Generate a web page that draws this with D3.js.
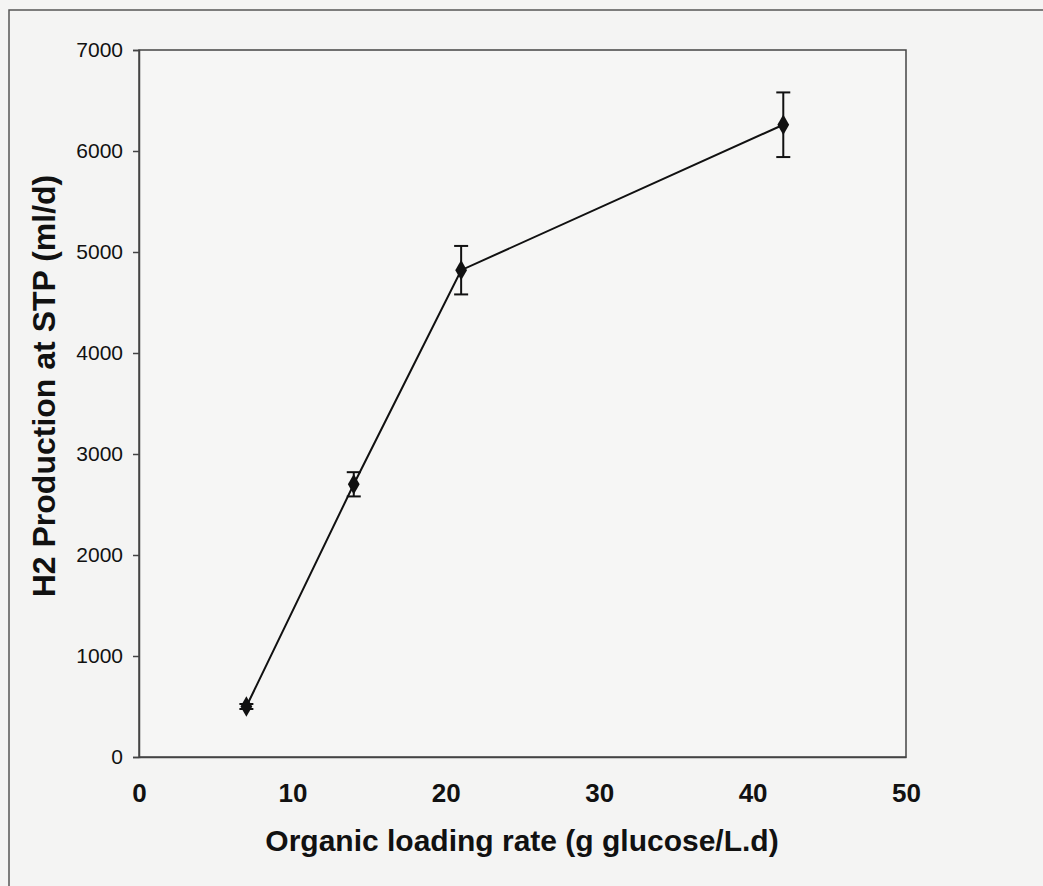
<!DOCTYPE html>
<html>
<head>
<meta charset="utf-8">
<script src="https://cdn.jsdelivr.net/npm/d3@7"></script>
<style>
  html, body { margin: 0; padding: 0; background: #f4f4f3; }
  svg { display: block; }
  text { font-family: "Liberation Sans", Arial, sans-serif; fill: #111; }
</style>
</head>
<body>
<svg id="chart" width="1043" height="886"></svg>
<script>
// Organic loading rate (g glucose/L.d)
const loadingRate = [7, 14, 21, 42];
// H2 production at STP (ml/d) and its error
const h2Production = [500, 2700, 4820, 6260];
const h2Error = [25, 120, 240, 320];

const xTicks = [0, 10, 20, 30, 40, 50];
const yTicks = [0, 1000, 2000, 3000, 4000, 5000, 6000, 7000];

const svg = d3.select("#chart");
const W = 1043, H = 886;
const plot = { left: 139, right: 906, top: 50, bottom: 757 };

// Page frame
svg.append("rect")
  .attr("x", 9).attr("y", 10)
  .attr("width", W + 20).attr("height", H + 20)
  .attr("fill", "#f4f4f3")
  .attr("stroke", "#555").attr("stroke-width", 1.5);

const x = d3.scaleLinear().domain([0, 50]).range([plot.left, plot.right]);
const y = d3.scaleLinear().domain([0, 7000]).range([plot.bottom, plot.top]);

// Plot area border
svg.append("rect")
  .attr("x", plot.left).attr("y", plot.top)
  .attr("width", plot.right - plot.left).attr("height", plot.bottom - plot.top)
  .attr("fill", "#f6f6f5")
  .attr("stroke", "#444").attr("stroke-width", 1.5);

// Y axis
const yAxis = svg.append("g")
  .attr("transform", `translate(${plot.left},0)`)
  .call(d3.axisLeft(y).tickValues(yTicks).tickSize(6).tickPadding(10).tickFormat(d3.format("d")));
yAxis.select(".domain").attr("stroke", "#444").attr("stroke-width", 1.5);
yAxis.selectAll(".tick line").attr("stroke", "#444").attr("stroke-width", 1.5);
yAxis.selectAll(".tick text")
  .style("font-family", '"Liberation Sans", Arial, sans-serif')
  .style("font-size", "21px").attr("fill", "#111");

// X axis (labels only)
const xAxis = svg.append("g")
  .attr("transform", `translate(0,${plot.bottom})`)
  .call(d3.axisBottom(x).tickValues(xTicks).tickSize(0).tickPadding(27).tickFormat(d3.format("d")));
xAxis.select(".domain").attr("stroke", "#444").attr("stroke-width", 1.5);
xAxis.selectAll(".tick text")
  .style("font-family", '"Liberation Sans", Arial, sans-serif')
  .style("font-size", "26px").style("font-weight", "bold").attr("fill", "#111");

// Axis titles
svg.append("text")
  .attr("x", 522).attr("y", 851)
  .attr("text-anchor", "middle")
  .style("font-size", "30px").style("font-weight", "bold")
  .text("Organic loading rate (g glucose/L.d)");

svg.append("text")
  .attr("transform", "translate(55,386) rotate(-90)")
  .attr("text-anchor", "middle")
  .style("font-size", "32px").style("font-weight", "bold")
  .text("H2 Production at STP (ml/d)");

const pts = loadingRate.map((v, i) => ({ x: v, y: h2Production[i], e: h2Error[i] }));

// Connecting line
svg.append("path")
  .datum(pts)
  .attr("fill", "none").attr("stroke", "#111").attr("stroke-width", 2)
  .attr("d", d3.line().x(d => x(d.x)).y(d => y(d.y)));

// Error bars
const eb = svg.append("g").attr("stroke", "#111").attr("stroke-width", 2);
pts.forEach(d => {
  const cx = x(d.x);
  eb.append("line").attr("x1", cx).attr("x2", cx).attr("y1", y(d.y + d.e)).attr("y2", y(d.y - d.e));
  eb.append("line").attr("x1", cx - 7).attr("x2", cx + 7).attr("y1", y(d.y + d.e)).attr("y2", y(d.y + d.e));
  eb.append("line").attr("x1", cx - 7).attr("x2", cx + 7).attr("y1", y(d.y - d.e)).attr("y2", y(d.y - d.e));
});

// Diamond markers
svg.append("g").selectAll("path")
  .data(pts)
  .join("path")
  .attr("transform", d => `translate(${x(d.x)},${y(d.y)})`)
  .attr("d", d3.symbol(d3.symbolDiamond, 120))
  .attr("fill", "#111");
</script>
</body>
</html>
